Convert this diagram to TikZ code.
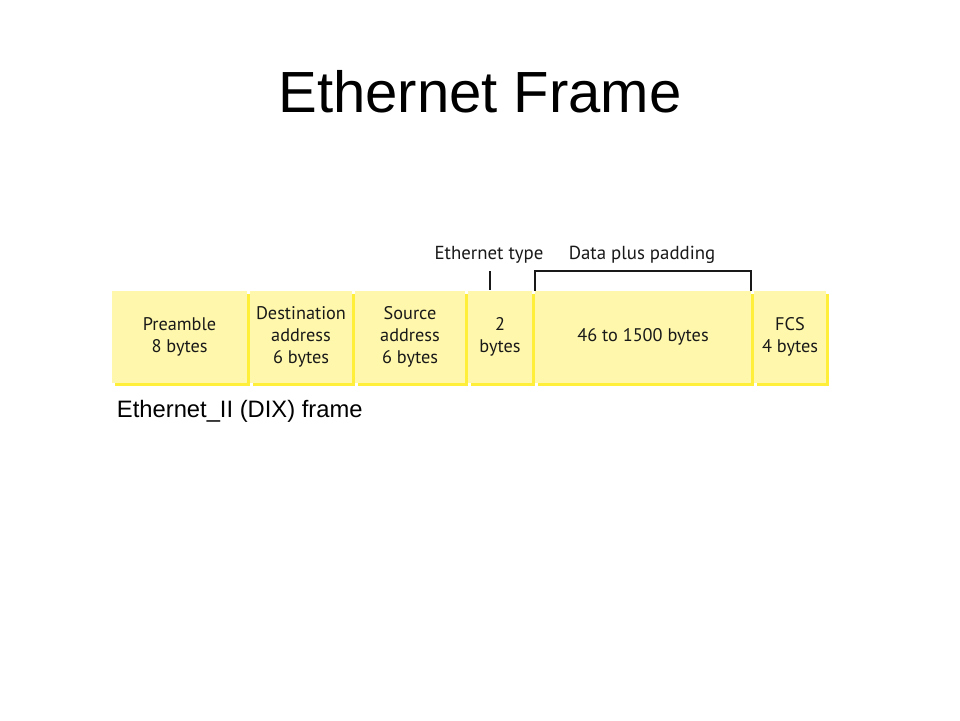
\documentclass[tikz,border=0pt]{standalone}
\usepackage{fontspec}
\setmainfont{Liberation Sans}
\newfontfamily\fieldfont{PT Sans}
\usepackage{xcolor}
\usetikzlibrary{positioning, shadows}

\definecolor{fieldfill}{HTML}{FFF8AC}
\definecolor{fieldedge}{HTML}{FFEF3A}

\begin{document}
\begin{tikzpicture}[
  field/.style={fill=fieldfill, minimum height=2.3cm, inner sep=0pt,
    align=center, text=black!90,
    font=\fieldfont\fontsize{13}{15.6}\selectfont,
    drop shadow={shadow xshift=0.08cm, shadow yshift=-0.08cm,
      fill=fieldedge, opacity=1}},
  brace/.style={line width=1.6pt, black!90},
  tag/.style={font=\fieldfont\fontsize{13.4}{15}\selectfont, text=black!90},
]
  % Page
  \useasboundingbox[fill=white] (0,0) rectangle (24,18);

  % Title
  \node[font=\fontsize{41.3}{48}\selectfont] (title) at (12,15.7) {Ethernet Frame};

  % Frame fields
  \node[field, minimum width=3.375cm] (pre)  at (4.4875,9.575) {Preamble\\8 bytes};
  \node[field, minimum width=2.55cm]  (dst)  at (7.525,9.575)  {Destination\\address\\6 bytes};
  \node[field, minimum width=2.75cm]  (src)  at (10.25,9.575)  {Source\\address\\6 bytes};
  \node[field, minimum width=1.6cm]   (type) at (12.5,9.575)   {2\\bytes};
  \node[field, minimum width=5.4cm]   (data) at (16.075,9.575) {46 to 1500 bytes};
  \node[field, minimum width=1.8cm]   (fcs)  at (19.75,9.575)  {FCS\\4 bytes};

  % Brackets
  \coordinate (typetop) at (12.25,11.225);
  \coordinate (typebot) at (12.25,10.75);
  \draw[brace] (typetop) -- (typebot);
  \draw[brace] (data.north west) -- ++(0,0.5) -| (data.north east);

  \node[tag] (typelbl) at (12.225,11.63) {Ethernet type};
  \node[tag] (datalbl) at (16.05,11.63) {Data plus padding};

  % Caption
  \node[font=\fontsize{16.9}{20}\selectfont, anchor=west] (cap) at (2.8,7.725)
    {Ethernet\_II (DIX) frame};

\end{tikzpicture}
\end{document}
